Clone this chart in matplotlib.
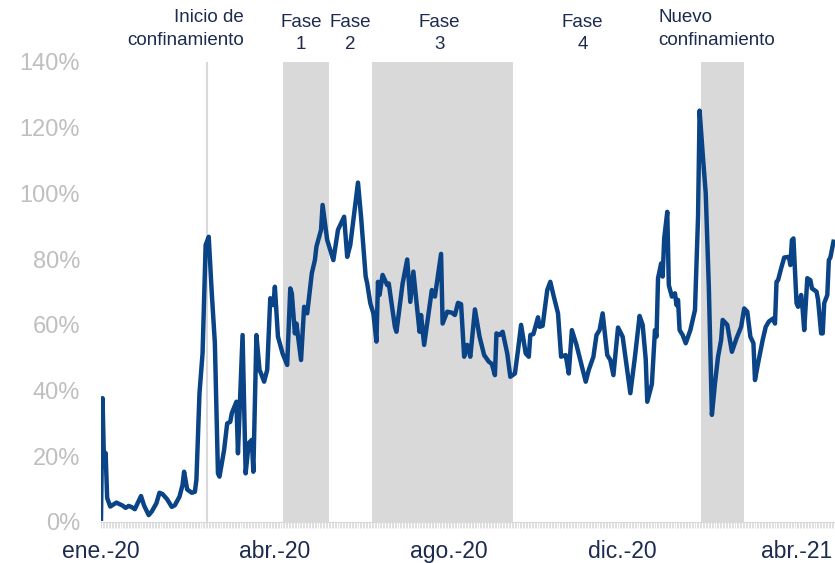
import matplotlib
matplotlib.use("Agg")
import matplotlib.pyplot as plt
import matplotlib.transforms as mtransforms
import pandas as pd
from matplotlib.ticker import FuncFormatter

plt.rcParams['font.family'] = ['Liberation Sans Narrow', 'Liberation Sans', 'DejaVu Sans']

# daily series, days counted from the first observation
start = pd.Timestamp("2020-01-07")
day = [0, 1, 2, 3, 4, 6, 10, 14, 16, 18, 20, 22, 26, 28, 31, 33, 36, 38, 40, 43,
       46, 48, 51, 53, 54, 56, 59, 61, 62, 64, 66, 68, 70, 72, 74, 76, 77, 80, 82, 84,
       85, 88, 89, 92, 94, 96, 98, 99, 101, 103, 104, 106, 108, 110, 112, 113, 115, 118, 121, 123,
       124, 126, 127, 130, 132, 134, 137, 139, 140, 143, 144, 147, 151, 154, 158, 160, 162, 167, 169, 172,
       173, 175, 177, 179, 180, 181, 183, 186, 187, 191, 192, 196, 199, 201, 203, 207, 208, 210, 215, 217,
       221, 222, 225, 228, 230, 232, 234, 236, 238, 240, 243, 246, 249, 252, 254, 256, 257, 259, 261, 264,
       266, 269, 271, 273, 276, 278, 279, 281, 284, 285, 287, 290, 292, 294, 297, 299, 302, 304, 306, 309,
       312, 315, 317, 320, 322, 324, 326, 329, 331, 333, 336, 339, 344, 347, 350, 352, 354, 355, 358, 360,
       361, 362, 364, 365, 366, 368, 369, 371, 373, 374, 375, 376, 378, 380, 383, 386, 388, 389, 391, 393,
       395, 397, 399, 401, 403, 404, 407, 410, 413, 416, 418, 420, 422, 424, 425, 427, 430, 432, 434, 437,
       438, 439, 440, 442, 444, 447, 448, 449, 450, 452, 453, 455, 456, 457, 459, 461, 462, 465, 466, 468,
       469, 470, 472, 473, 474, 476]
share = [1, 37.7, 16.8, 21, 7.3, 4.7, 5.9, 5.0, 4.3, 4.9, 4.5, 3.9, 7.9, 5.0, 2.1, 3.2, 5.7, 8.9, 8.5, 6.9,
         4.6, 5.1, 7.7, 11.3, 15.3, 9.9, 8.9, 9.2, 12.8, 39.2, 51.3, 84.3, 86.8, 69.6, 54.4, 14.8, 13.8, 21.9, 30, 30.5,
         33.1, 36.6, 20.9, 56.9, 14.8, 24, 25, 15.3, 56.9, 46.3, 45.2, 42.7, 46.3, 68.1, 66, 71.6, 56.4, 51.3, 47.8, 71.1,
         69.6, 57.4, 60.4, 49.3, 65.5, 63.5, 75.7, 79.7, 83.8, 88.9, 96.5, 85.8, 79.7, 88.9, 92.9, 80.7, 84.3, 103.3, 92.9, 74.7,
         72.6, 66.6, 63.5, 54.9, 73.1, 69.1, 75.2, 72.1, 72.6, 59.4, 57.9, 72.6, 79.9, 67, 76.2, 57.9, 63, 53.9, 70.6, 68.6,
         81.6, 60.4, 64, 63.7, 63, 66.7, 66.3, 50.3, 53.9, 50.3, 64.7, 56.4, 50.8, 48.8, 48.1, 44.7, 57.4, 56.9, 57.9, 51.3,
         44.2, 45.2, 52.3, 60, 51.3, 50.3, 56.9, 57.2, 62.3, 59.4, 59.7, 70.6, 73.1, 69.1, 63.5, 50.3, 50.8, 45.2, 58.4, 53.9,
         48.3, 42.7, 46.3, 50.3, 56.9, 58.4, 63.5, 50.8, 49.3, 44.7, 59.2, 56.4, 39.2, 50.3, 62.7, 60, 49.5, 36.6, 42, 58.4,
         56.4, 74.2, 78.7, 74.7, 86.3, 94.4, 72.1, 68.6, 69.6, 66, 67.6, 58.4, 56.9, 54.4, 58.4, 64.5, 92.9, 125.2, 112.2, 100,
         71.6, 32.6, 42.2, 50.3, 55.4, 61.5, 60, 51.8, 55.9, 59.4, 65, 64, 56.4, 54.4, 43.2, 48.3, 55.4, 59.4, 61, 62,
         60.4, 73.1, 73.6, 77.2, 80.5, 80.7, 78.2, 85.8, 86.3, 66.6, 65.5, 69.1, 64.5, 58.4, 74.2, 73.6, 71.1, 70.1, 67.6, 57.4,
         57.4, 66.6, 69.1, 79.7, 80.5, 85.3]
last_day = 477

# shaded periods and the start of lockdown
shade_start = ["2020-05-04", "2020-07-01", "2021-01-31"]
shade_end = ["2020-06-03", "2020-10-01", "2021-02-28"]
lockdown = "2020-03-16"

# labels above the plot
note_text = ["Inicio de\nconfinamiento", "Fase\n1", "Fase\n2", "Fase\n3", "Fase\n4", "Nuevo\nconfinamiento"]
note_date = ["2020-04-09", "2020-05-16", "2020-06-17", "2020-08-14", "2020-11-15", "2021-01-03"]
note_align = ["right", "center", "center", "center", "center", "left"]
note_y = [1.071, 1.062, 1.062, 1.062, 1.062, 1.071]

tick_every = 113
tick_labels = ["ene.-20", "abr.-20", "ago.-20", "dic.-20", "abr.-21"]
y_ticks = [0, 20, 40, 60, 80, 100, 120, 140]

dates = start + pd.to_timedelta(day, unit="D")

fig = plt.figure(figsize=(8.35, 5.63), dpi=100)
ax = fig.add_axes([101 / 835, 1 - 522 / 563, 734 / 835, 460 / 563])

for s, e in zip(shade_start, shade_end):
    ax.axvspan(pd.Timestamp(s), pd.Timestamp(e), color="#D9D9D9", lw=0, zorder=0)
ax.axvline(pd.Timestamp(lockdown), color="#D9D9D9", lw=1.5, zorder=1)

ax.plot(dates, share, color="#0A4486", lw=3.2, solid_joinstyle="round", zorder=3)

ax.set_xlim(start, start + pd.Timedelta(days=last_day))
ax.set_ylim(0, 140)
ax.set_yticks(y_ticks)
ax.yaxis.set_major_formatter(FuncFormatter(lambda v, p: f"{v:.0f}%"))

tick_dates = [start + pd.Timedelta(days=tick_every * i) for i in range(len(tick_labels))]
ax.set_xticks(tick_dates)
ax.set_xticklabels(tick_labels)
all_days = [start + pd.Timedelta(days=i) for i in range(last_day + 1)]
ax.set_xticks(all_days, minor=True)

ax.tick_params(axis="y", length=0, pad=15, labelsize=17, labelcolor="#BFBFBF")
ax.tick_params(axis="x", which="both", length=4, color="#D9D9D9", direction="out")
ax.tick_params(axis="x", which="major", pad=9, labelsize=16.5, labelcolor="#1C2B4F")

for side in ["top", "right", "left"]:
    ax.spines[side].set_visible(False)
ax.spines["bottom"].set_color("#D9D9D9")

trans = mtransforms.blended_transform_factory(ax.transData, ax.transAxes)
for txt, d, ha, y in zip(note_text, note_date, note_align, note_y):
    ax.text(pd.Timestamp(d), y, txt, transform=trans, ha=ha, va="center",
            multialignment=ha, fontsize=13.5, color="#1C2B4F", linespacing=1.45)

fig.savefig("out.png", dpi=100)
